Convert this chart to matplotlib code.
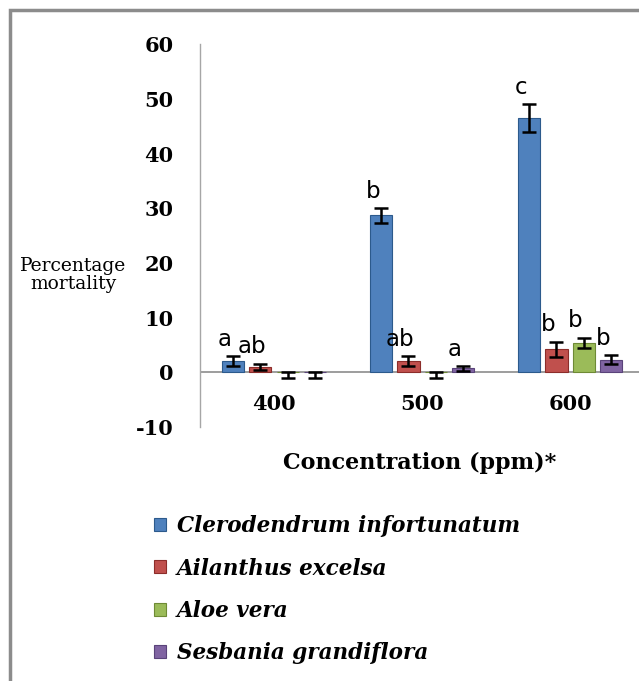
import matplotlib.pyplot as plt
import numpy as np
from matplotlib.patches import Rectangle

# concentrations (ppm) and plant extracts
concentrations = ['400', '500', '600']
species = ['Clerodendrum infortunatum', 'Ailanthus excelsa', 'Aloe vera', 'Sesbania grandiflora']

# mean percentage mortality, one list per species (400, 500, 600 ppm)
clerodendrum = [2.0, 28.7, 46.5]
ailanthus = [1.0, 2.0, 4.2]
aloe = [0.0, 0.0, 5.4]
sesbania = [0.0, 0.7, 2.3]

# error bars (lower, upper)
clerodendrum_err = [[0.9, 1.3, 2.5], [0.9, 1.3, 2.5]]
ailanthus_err = [[0.6, 0.9, 1.4], [0.6, 0.9, 1.4]]
aloe_err = [[1.0, 1.0, 0.9], [0.0, 0.0, 0.9]]
sesbania_err = [[1.0, 0.4, 0.8], [0.0, 0.4, 0.8]]

# significance letters (empty = none)
clerodendrum_sig = ['a', 'b', 'c']
ailanthus_sig = ['ab', 'ab', 'b']
aloe_sig = ['', '', 'b']
sesbania_sig = ['', 'a', 'b']

values = [clerodendrum, ailanthus, aloe, sesbania]
errors = [clerodendrum_err, ailanthus_err, aloe_err, sesbania_err]
letters = [clerodendrum_sig, ailanthus_sig, aloe_sig, sesbania_sig]
colors = ['#4F81BD', '#C0504D', '#9BBB59', '#8064A2']
edges = ['#2C5A8C', '#8C2D2A', '#6E8A35', '#5A437A']

serif = 'DejaVu Serif'

fig = plt.figure(figsize=(6.39, 6.81), dpi=100)
ax = fig.add_axes([0.313, 0.373, 0.687, 0.562])

x = np.arange(len(concentrations)) + 0.5
offsets = [-0.277, -0.092, 0.092, 0.277]
width = 0.15

handles = []
for i in range(4):
    b = ax.bar(x + offsets[i], values[i], width, color=colors[i], edgecolor=edges[i],
               linewidth=0.8, zorder=3, label=species[i])
    ax.errorbar(x + offsets[i], values[i], yerr=errors[i], fmt='none', ecolor='black',
                elinewidth=1.8, capsize=5, capthick=1.8, zorder=4)
    handles.append(b)
    for j in range(3):
        if letters[i][j]:
            top = values[i][j] + errors[i][1][j]
            ax.annotate(letters[i][j], (x[j] + offsets[i], top), xytext=(-6, 4),
                        textcoords='offset points', ha='center', va='bottom',
                        fontsize=16.5, family='DejaVu Sans', color='black', zorder=5)

ax.axhline(0, color='#8C8C8C', linewidth=1.2, zorder=2)
ax.set_xlim(0, 2.966)
ax.set_ylim(-10, 60)
ax.set_yticks(range(-10, 61, 10))
ax.set_yticklabels([str(v) for v in range(-10, 61, 10)], family=serif,
                   fontweight='bold', fontsize=15)
ax.tick_params(axis='y', length=0, pad=19)
ax.set_xticks(x)
ax.set_xticklabels(concentrations, family=serif, fontweight='bold', fontsize=15)
ax.tick_params(axis='x', length=0, pad=-24)

for s in ['top', 'right', 'bottom']:
    ax.spines[s].set_visible(False)
ax.spines['left'].set_color('#A6A6A6')
ax.spines['left'].set_linewidth(1.0)

ax.set_xlabel('Concentration (ppm)*', family=serif, fontweight='bold', fontsize=16)
ax.xaxis.set_label_coords(0.5, -0.064)

fig.text(0.115, 0.596, 'Percentage\nmortality', family=serif, fontsize=13.5,
         ha='center', va='center', linespacing=1.05)

leg = fig.legend(handles=handles, loc='upper left', bbox_to_anchor=(0.211, 0.272),
                 frameon=False, prop={'family': serif, 'weight': 'bold', 'style': 'italic',
                                      'size': 15.5},
                 handlelength=0.55, handleheight=0.55, handletextpad=0.5, labelspacing=0.95)

# outer chart border (top and left visible)
fig.patches.append(Rectangle((10 / 639, -0.1), 1.2, (681 - 10) / 681 + 0.1,
                             transform=fig.transFigure, fill=False,
                             edgecolor='#8C8C8C', linewidth=2.5, zorder=0))

fig.savefig('out.png', dpi=100)
